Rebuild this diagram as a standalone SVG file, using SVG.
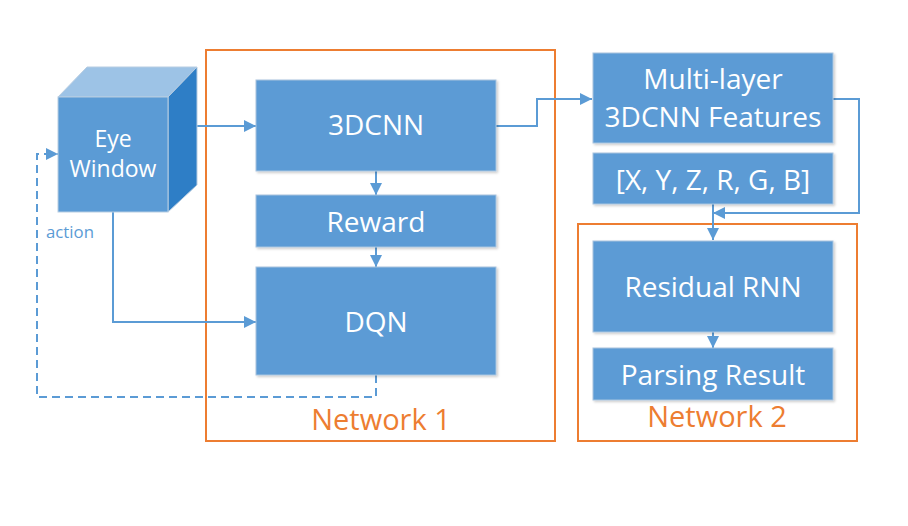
<svg xmlns="http://www.w3.org/2000/svg" width="908" height="526" viewBox="0 0 908 526">
<defs>
<style>
.box{fill:#5B9BD5;stroke:#A9C4DE;stroke-width:1}
.t{font-family:"Open Sans","Noto Sans",sans-serif;fill:#FFFFFF;text-anchor:middle;font-size:28px}
.t.s{font-size:23px}
.net{fill:none;stroke:#ED7D31;stroke-width:2}
.nt{font-family:"Open Sans","Noto Sans",sans-serif;fill:#ED7D31;text-anchor:middle;font-size:29px}
.c{fill:none;stroke:#5B9BD5;stroke-width:2}
.d{stroke-dasharray:8,5}
</style>
<marker id="ah" viewBox="0 0 10 10" refX="10" refY="5" markerWidth="12" markerHeight="12" markerUnits="userSpaceOnUse" orient="auto">
<path d="M0,0 L10,5 L0,10 z" fill="#5B9BD5"/>
</marker>
<filter id="sh" x="-5%" y="-5%" width="115%" height="115%">
<feDropShadow dx="1.5" dy="1.5" stdDeviation="1" flood-color="#000" flood-opacity="0.2"/>
</filter>
</defs>
<rect width="908" height="526" fill="#FFFFFF"/>

<g id="network1"><rect class="net" x="206" y="50" width="349" height="391"/><text class="nt" x="381" y="430">Network 1</text></g>
<g id="network2"><rect class="net" x="578" y="224" width="279" height="217"/><text class="nt" x="717" y="427">Network 2</text></g>

<g id="connectors">
<polyline class="c" points="197,126 256,126" marker-end="url(#ah)"/>
<polyline class="c" points="113,212 113,322 256,322" marker-end="url(#ah)"/>
<polyline class="c d" points="376,375 376,397 37,397 37,154 58,154" marker-end="url(#ah)"/>
<polyline class="c" points="376,171 376,195" marker-end="url(#ah)"/>
<polyline class="c" points="376,247 376,267" marker-end="url(#ah)"/>
<polyline class="c" points="496,126 537,126 537,99 592,99" marker-end="url(#ah)"/>
<polyline class="c" points="833,99 859,99 859,213 713,213" marker-end="url(#ah)"/>
<polyline class="c" points="713,204 713,240" marker-end="url(#ah)"/>
<polyline class="c" points="713,332 713,348" marker-end="url(#ah)"/>
<text x="46" y="238" font-family="Open Sans, Noto Sans, sans-serif" font-size="16.8" fill="#5B9BD5">action</text>
</g>

<g id="eye-window">
<polygon points="58,97 87,67 197,67 168,97" fill="#9DC3E6" stroke="#B7CDE2" stroke-width="1"/>
<polygon points="168,97 197,67 197,185 168,212" fill="#2E7EC6" stroke="#B7CDE2" stroke-width="1"/>
<rect x="58" y="97" width="110" height="115" fill="#5B9BD5" stroke="#B7CDE2" stroke-width="1"/>
<text class="t s" x="113" y="147">Eye</text>
<text class="t s" x="113" y="177">Window</text>
</g>

<g id="cnn3d"><rect class="box" filter="url(#sh)" x="256" y="80" width="240" height="91"/><text class="t" x="376" y="135">3DCNN</text></g>
<g id="reward"><rect class="box" filter="url(#sh)" x="256" y="195" width="240" height="52"/><text class="t" x="376" y="232">Reward</text></g>
<g id="dqn"><rect class="box" filter="url(#sh)" x="256" y="267" width="240" height="108"/><text class="t" x="376" y="332">DQN</text></g>

<g id="multilayer"><rect class="box" filter="url(#sh)" x="593" y="53" width="240" height="90"/><text class="t" x="713" y="89">Multi-layer</text><text class="t" x="713" y="127">3DCNN Features</text></g>
<g id="xyzrgb"><rect class="box" filter="url(#sh)" x="593" y="153" width="240" height="51"/><text class="t" x="713" y="190">[X, Y, Z, R, G, B]</text></g>
<g id="residual-rnn"><rect class="box" filter="url(#sh)" x="593" y="241" width="240" height="91"/><text class="t" x="713" y="297">Residual RNN</text></g>
<g id="parsing-result"><rect class="box" filter="url(#sh)" x="593" y="348" width="240" height="52"/><text class="t" x="713" y="385">Parsing Result</text></g>
</svg>
